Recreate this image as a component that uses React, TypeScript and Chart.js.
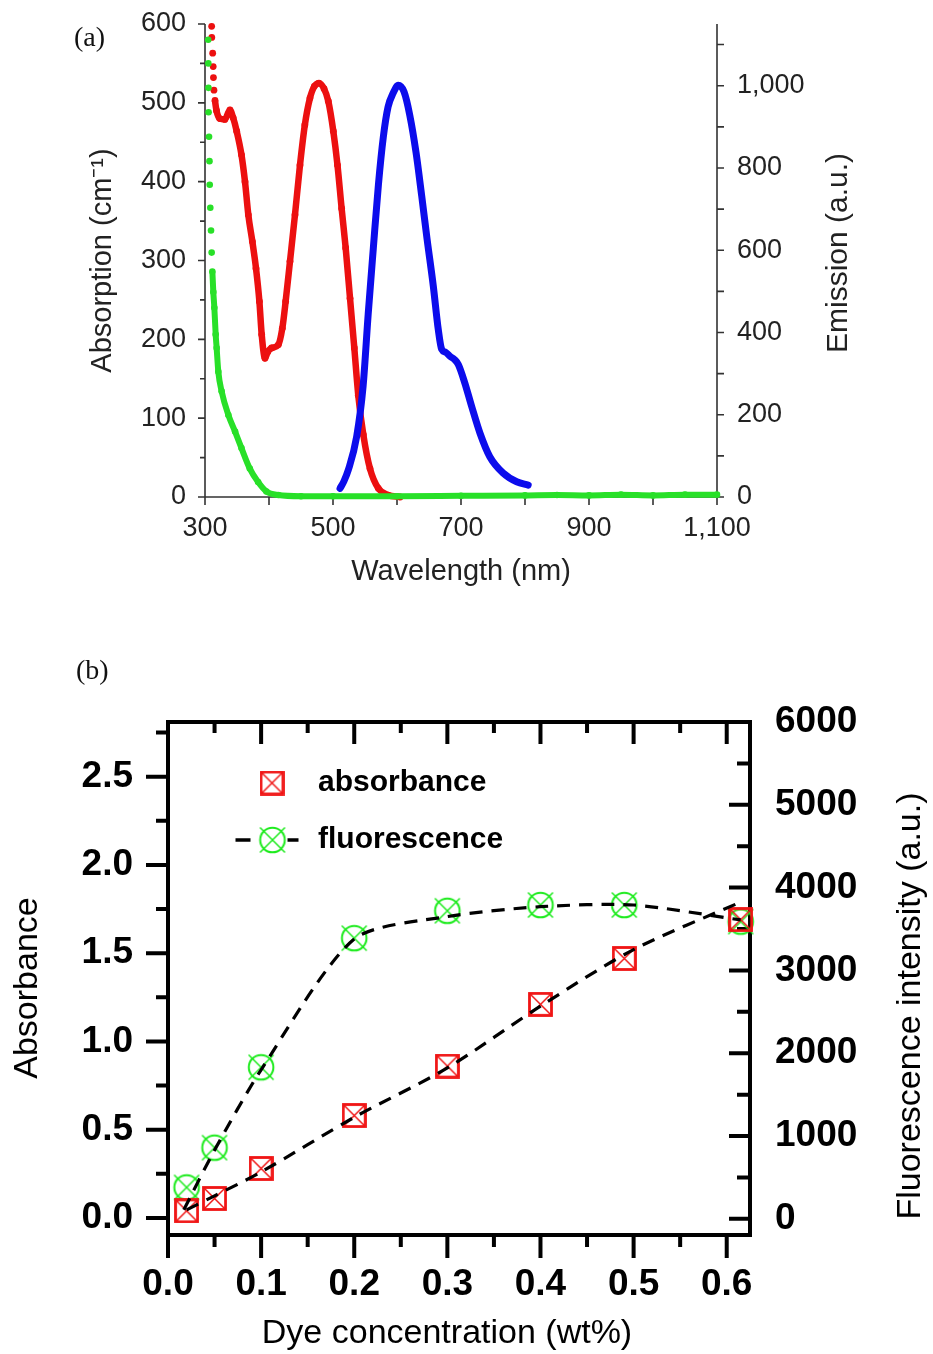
import React, { useEffect, useRef } from "react";
import { Chart, registerables } from "chart.js";

Chart.register(...registerables);

const SANS = "'Liberation Sans', Arial, Helvetica, sans-serif";
const SERIF = "'Liberation Serif', 'Times New Roman', serif";

// ---------------- Panel (a): spectra ----------------
const RED_WL = [310.4, 310.6, 312, 312.8, 313.2, 314, 315.6, 318, 323, 331, 339, 344, 349.5, 357, 362.5, 367.7, 374, 379.7, 385, 388.6, 393.8, 398, 404, 414.5, 420.8, 426, 432.8, 440.6, 448.4, 456, 464, 470.8, 478, 486, 492.7, 500.5, 507, 513.5, 519.8, 526.6, 533.3, 539.5, 547.4, 557.8, 570.8, 586, 605];
const RED_ABS = [597, 583, 563, 546, 532, 516, 503, 490, 480, 479, 491, 481, 464, 434, 400, 358, 324, 290, 248, 206, 176, 184, 189, 193, 214, 248, 299, 358, 421, 472, 506, 521, 525, 518, 502, 464, 421, 366, 316, 252, 189, 129, 79, 36, 11, 2.5, 0];

const GREEN_WL = [305, 305.2, 305.4, 305.6, 306.3, 307, 307.4, 308.3, 309.4, 310.4, 311.5, 313, 314.6, 316.7, 318.2, 320.8, 326, 336.5, 347, 357, 370, 383, 396, 414.5, 450, 500, 600, 700, 800, 850, 900, 950, 1000, 1050, 1100];
const GREEN_ABS = [580, 550, 519, 488, 457, 426, 396, 367, 338, 310, 286, 260, 240, 206, 189, 159, 134, 104, 83, 62, 36, 19, 7, 2.5, 1, 1, 1, 1.5, 2, 2.5, 2, 3, 2, 3, 3];

const BLUE_WL = [511, 517, 524, 537, 547, 555, 563, 571, 578.6, 586, 594, 602, 611, 620, 629.7, 638.6, 647, 656.7, 664.5, 669.8, 676, 683, 690, 695.8, 706, 716.7, 729.7, 745, 766, 787, 805];
const BLUE_EM = [21, 38, 66, 147, 269, 445, 605, 760, 875, 948, 982, 1001, 985, 928, 838, 732, 627, 513, 407, 359, 352, 342, 334, 322, 277, 220, 155, 98, 58, 37, 29];

const A_X_LABELS = [300, 500, 700, 900, 1100];
const A_X_MINOR = [400, 600, 800, 1000];
const A_Y_LABELS = [0, 100, 200, 300, 400, 500, 600];
const A_Y_MINOR = [50, 150, 250, 350, 450, 550];
const A_Y2_LABELS = [0, 200, 400, 600, 800, 1000];
const A_Y2_MINOR = [100, 300, 500, 700, 900, 1100];

// ---------------- Panel (b): concentration series ----------------
const CONC = [0.02, 0.05, 0.1, 0.2, 0.3, 0.4, 0.49, 0.615];
const ABSORBANCE = [0.04, 0.11, 0.28, 0.58, 0.86, 1.21, 1.47, 1.69];
const FLUORESCENCE = [380, 860, 1830, 3390, 3720, 3790, 3790, 3590];
const ABS_FIT_X = [0.02, 0.05, 0.1, 0.2, 0.3, 0.4, 0.5, 0.615];
const ABS_FIT_Y = [0.045, 0.125, 0.26, 0.57, 0.85, 1.2, 1.52, 1.79];
const FLU_FIT_X = [0.017, 0.05, 0.1, 0.2, 0.3, 0.4, 0.5, 0.615];
const FLU_FIT_Y = [110, 830, 1800, 3380, 3650, 3770, 3790, 3610];

const B_X_LABELS = [0, 0.1, 0.2, 0.3, 0.4, 0.5, 0.6];
const B_X_MINOR = [0.05, 0.15, 0.25, 0.35, 0.45, 0.55];
const B_Y_LABELS = [0, 0.5, 1.0, 1.5, 2.0, 2.5];
const B_Y_MINOR = [0.25, 0.75, 1.25, 1.75, 2.25, 2.75];
const B_Y2_LABELS = [0, 1000, 2000, 3000, 4000, 5000, 6000];
const B_Y2_MINOR = [500, 1500, 2500, 3500, 4500, 5500];

const RED = "rgb(236,16,16)";
const GREEN = "rgb(40,224,40)";
const BLUE = "rgb(12,12,236)";
const TXT = "#222";

const pts = (xs: number[], ys: number[]) => xs.map((x, i) => ({ x, y: ys[i] }));
const fixedTicks = (vals: number[]) => (s: any) => {
  s.ticks = vals.map((v) => ({ value: v }));
};
const fitBox = (w: number | null, h: number | null) => (s: any) => {
  if (w !== null) s.width = w;
  if (h !== null) s.height = h;
  s.paddingTop = 0;
  s.paddingBottom = 0;
  s.paddingLeft = 0;
  s.paddingRight = 0;
};

// axis lines + tick marks drawn through the scales
const decorPlugin = {
  id: "decor",
  beforeDatasetsDraw(chart: any, _a: any, opts: any) {
    const { ctx } = chart;
    const { left, right, top, bottom } = chart.chartArea;
    ctx.save();
    ctx.strokeStyle = opts.color;
    ctx.lineCap = "butt";
    ctx.lineWidth = opts.lineWidth;
    if (opts.frame) {
      ctx.strokeRect(left, top, right - left, bottom - top);
    } else {
      ctx.beginPath();
      for (const s of opts.sides) {
        if (s === "left") { ctx.moveTo(left, top); ctx.lineTo(left, bottom); }
        if (s === "right") { ctx.moveTo(right, top); ctx.lineTo(right, bottom); }
        if (s === "bottom") { ctx.moveTo(left, bottom); ctx.lineTo(right, bottom); }
        if (s === "top") { ctx.moveTo(left, top); ctx.lineTo(right, top); }
      }
      ctx.stroke();
    }
    for (const t of opts.ticks) {
      const sc = chart.scales[t.scale];
      ctx.lineWidth = t.width;
      ctx.beginPath();
      for (const v of t.values) {
        const p = sc.getPixelForValue(v);
        if (t.side === "left") { ctx.moveTo(left, p); ctx.lineTo(left - t.dir * t.len, p); }
        if (t.side === "right") { ctx.moveTo(right, p); ctx.lineTo(right + t.dir * t.len, p); }
        if (t.side === "bottom") { ctx.moveTo(p, bottom); ctx.lineTo(p, bottom + t.dir * t.len); }
        if (t.side === "top") { ctx.moveTo(p, top); ctx.lineTo(p, top - t.dir * t.len); }
      }
      ctx.stroke();
    }
    ctx.restore();
  },
};

// free-placed axis titles (rotated ones read bottom-to-top)
const sideTitlePlugin = {
  id: "sideTitle",
  afterDraw(chart: any, _a: any, opts: any) {
    const { ctx } = chart;
    for (const it of opts.items || []) {
      ctx.save();
      ctx.translate(it.x, it.y);
      if (it.rotate !== false) ctx.rotate(-Math.PI / 2);
      ctx.font = it.font;
      ctx.fillStyle = it.color;
      ctx.textAlign = "center";
      ctx.textBaseline = "middle";
      ctx.fillText(it.text, 0, 0);
      ctx.restore();
    }
  },
};

// legend with the custom marker glyphs
const markerLegendPlugin = {
  id: "markerLegend",
  afterDraw(chart: any, _a: any, opts: any) {
    const { ctx } = chart;
    for (const it of opts.items || []) {
      const ds = chart.data.datasets[it.datasetIndex];
      const img = ds.pointStyle;
      ctx.save();
      if (it.dashed) {
        ctx.strokeStyle = "#000";
        ctx.lineWidth = 3.5;
        ctx.beginPath();
        ctx.moveTo(it.x - 37, it.y);
        ctx.lineTo(it.x - 22, it.y);
        ctx.moveTo(it.x + 15, it.y);
        ctx.lineTo(it.x + 26, it.y);
        ctx.stroke();
      }
      ctx.drawImage(img, it.x - img.width / 2, it.y - img.height / 2);
      ctx.font = opts.font;
      ctx.fillStyle = "#000";
      ctx.textAlign = "left";
      ctx.textBaseline = "middle";
      ctx.fillText(ds.label, opts.textX, it.y);
      ctx.restore();
    }
  },
};

function makeSquareX(color: string) {
  const size = 25;
  const c = document.createElement("canvas");
  c.width = size;
  c.height = size;
  const g = c.getContext("2d")!;
  g.strokeStyle = color;
  const m = 1.5;
  g.lineWidth = 2.8;
  g.strokeRect(m, m, size - 2 * m, size - 2 * m);
  g.lineWidth = 1.5;
  g.beginPath();
  g.moveTo(m, m);
  g.lineTo(size - m, size - m);
  g.moveTo(size - m, m);
  g.lineTo(m, size - m);
  g.stroke();
  return c;
}

function makeCircleX(color: string) {
  const size = 30;
  const c = document.createElement("canvas");
  c.width = size;
  c.height = size;
  const g = c.getContext("2d")!;
  g.strokeStyle = color;
  g.lineWidth = 2;
  g.beginPath();
  g.arc(size / 2, size / 2, 12.3, 0, Math.PI * 2);
  g.stroke();
  g.lineWidth = 1.5;
  g.beginPath();
  g.moveTo(2.5, 2.5);
  g.lineTo(size - 2.5, size - 2.5);
  g.moveTo(size - 2.5, 2.5);
  g.lineTo(2.5, size - 2.5);
  g.stroke();
  return c;
}

const hiddenUntil = (n: number) => (c: any) => (c.p1DataIndex <= n ? "rgba(0,0,0,0)" : undefined);

function configA(): any {
  const tickFont = { family: SANS, size: 27 };
  const titleFont = { family: SANS, size: 29 };
  return {
    type: "line",
    data: {
      datasets: [
        {
          label: "green",
          data: pts(GREEN_WL, GREEN_ABS),
          yAxisID: "y",
          borderColor: GREEN,
          backgroundColor: GREEN,
          borderWidth: 6,
          pointRadius: 3.3,
          pointBorderWidth: 0,
          pointBackgroundColor: GREEN,
          cubicInterpolationMode: "monotone",
          borderJoinStyle: "round",
          segment: { borderColor: hiddenUntil(10) },
          clip: false,
        },
        {
          label: "blue",
          data: pts(BLUE_WL, BLUE_EM),
          yAxisID: "y2",
          borderColor: BLUE,
          backgroundColor: BLUE,
          borderWidth: 7,
          pointRadius: 0,
          cubicInterpolationMode: "monotone",
          borderCapStyle: "round",
          borderJoinStyle: "round",
          clip: false,
        },
        {
          label: "red",
          data: pts(RED_WL, RED_ABS),
          yAxisID: "y",
          borderColor: RED,
          backgroundColor: RED,
          borderWidth: 6.5,
          pointRadius: 3.4,
          pointBorderWidth: 0,
          pointBackgroundColor: RED,
          cubicInterpolationMode: "monotone",
          borderJoinStyle: "round",
          segment: { borderColor: hiddenUntil(6) },
          clip: false,
        },
      ],
    },
    options: {
      responsive: false,
      animation: false,
      events: [],
      layout: { padding: { top: 24, left: 0, right: 0, bottom: 0 } },
      plugins: {
        legend: { display: false },
        tooltip: { enabled: false },
        decor: {
          color: "#333",
          lineWidth: 1.6,
          sides: ["left", "bottom", "right"],
          ticks: [
            { scale: "y", side: "left", values: A_Y_LABELS, len: 7, dir: 1, width: 1.6 },
            { scale: "y", side: "left", values: A_Y_MINOR, len: 5, dir: 1, width: 1.6 },
            { scale: "x", side: "bottom", values: [...A_X_LABELS, ...A_X_MINOR], len: 8, dir: 1, width: 1.6 },
            { scale: "y2", side: "right", values: [...A_Y2_LABELS, ...A_Y2_MINOR], len: 7, dir: 1, width: 1.6 },
          ],
        },
        sideTitle: {
          items: [{ text: "Emission (a.u.)", x: 839, y: 253, font: `30px ${SANS}`, color: TXT }],
        },
      },
      scales: {
        x: {
          type: "linear",
          position: "bottom",
          min: 300,
          max: 1100,
          grid: { display: false, drawTicks: false },
          border: { display: false },
          afterFit: fitBox(null, 123),
          afterBuildTicks: fixedTicks(A_X_LABELS),
          ticks: {
            autoSkip: false,
            maxRotation: 0,
            padding: 15,
            color: TXT,
            font: tickFont,
            callback: (v: any) => Number(v).toLocaleString("en-US"),
          },
          title: { display: true, text: "Wavelength (nm)", color: TXT, font: titleFont, padding: { top: 0, bottom: 31 } },
        },
        y: {
          type: "linear",
          position: "left",
          min: 0,
          max: 600,
          grid: { display: false, drawTicks: false },
          border: { display: false },
          afterFit: fitBox(205, null),
          afterBuildTicks: fixedTicks(A_Y_LABELS),
          ticks: { autoSkip: false, padding: 19, color: TXT, font: tickFont },
          title: { display: true, text: "Absorption (cm\u207B\u00B9)", color: TXT, font: titleFont, padding: { top: 86, bottom: 0 } },
        },
        y2: {
          type: "linear",
          position: "right",
          min: 0,
          max: 1150,
          grid: { display: false, drawTicks: false },
          border: { display: false },
          afterFit: fitBox(216, null),
          afterBuildTicks: fixedTicks(A_Y2_LABELS),
          ticks: {
            autoSkip: false,
            padding: 20,
            color: TXT,
            font: tickFont,
            callback: (v: any) => Number(v).toLocaleString("en-US"),
          },
        },
      },
    },
    plugins: [decorPlugin, sideTitlePlugin],
  };
}

function configB(): any {
  const sq = makeSquareX("rgb(240,20,20)");
  const ci = makeCircleX("rgb(30,235,30)");
  const tickFont = { family: SANS, size: 37, weight: "bold" };
  return {
    type: "line",
    data: {
      datasets: [
        {
          label: "absorbance fit",
          data: pts(ABS_FIT_X, ABS_FIT_Y),
          yAxisID: "y",
          borderColor: "#000",
          borderWidth: 3.2,
          borderDash: [13, 9],
          pointRadius: 0,
          tension: 0.3,
          clip: false,
        },
        {
          label: "fluorescence fit",
          data: pts(FLU_FIT_X, FLU_FIT_Y),
          yAxisID: "y2",
          borderColor: "#000",
          borderWidth: 3.2,
          borderDash: [13, 9],
          pointRadius: 0,
          tension: 0.25,
          clip: false,
        },
        {
          label: "absorbance",
          data: pts(CONC, ABSORBANCE),
          yAxisID: "y",
          showLine: false,
          pointStyle: sq,
          pointRadius: 12,
          clip: false,
        },
        {
          label: "fluorescence",
          data: pts(CONC, FLUORESCENCE),
          yAxisID: "y2",
          showLine: false,
          pointStyle: ci,
          pointRadius: 13,
          clip: false,
        },
      ],
    },
    options: {
      responsive: false,
      animation: false,
      events: [],
      layout: { padding: { top: 102, left: 0, right: 0, bottom: 0 } },
      plugins: {
        legend: { display: false },
        tooltip: { enabled: false },
        decor: {
          color: "#000",
          lineWidth: 4,
          frame: true,
          ticks: [
            { scale: "y", side: "left", values: B_Y_LABELS, len: 22, dir: 1, width: 4 },
            { scale: "y", side: "left", values: B_Y_MINOR, len: 12, dir: 1, width: 4 },
            { scale: "x", side: "bottom", values: B_X_LABELS, len: 23, dir: 1, width: 4 },
            { scale: "x", side: "bottom", values: B_X_MINOR, len: 12, dir: 1, width: 4 },
            { scale: "x", side: "top", values: B_X_LABELS, len: 22, dir: -1, width: 4 },
            { scale: "x", side: "top", values: B_X_MINOR, len: 11, dir: -1, width: 4 },
            { scale: "y2", side: "right", values: B_Y2_LABELS, len: 21, dir: -1, width: 4 },
            { scale: "y2", side: "right", values: B_Y2_MINOR, len: 13, dir: -1, width: 4 },
          ],
        },
        sideTitle: {
          items: [
            { text: "Absorbance", x: 28, y: 368, font: `34px ${SANS}`, color: "#000" },
            { text: "Fluorescence intensity (a.u.)", x: 911, y: 386, font: `34px ${SANS}`, color: "#000" },
            { text: "Dye concentration (wt%)", x: 447, y: 714, font: `34px ${SANS}`, color: "#000", rotate: false },
          ],
        },
        markerLegend: {
          font: `bold 30px ${SANS}`,
          textX: 318,
          items: [
            { datasetIndex: 2, x: 272, y: 163, dashed: false },
            { datasetIndex: 3, x: 272.5, y: 220, dashed: true },
          ],
        },
      },
      scales: {
        x: {
          type: "linear",
          position: "bottom",
          min: 0,
          max: 0.625,
          grid: { display: false, drawTicks: false },
          border: { display: false },
          afterFit: fitBox(null, 119),
          afterBuildTicks: fixedTicks(B_X_LABELS),
          ticks: {
            autoSkip: false,
            maxRotation: 0,
            padding: 28,
            color: "#000",
            font: tickFont,
            callback: (v: any) => Number(v).toFixed(1),
          },
        },
        y: {
          type: "linear",
          position: "left",
          min: -0.097,
          max: 2.81,
          grid: { display: false, drawTicks: false },
          border: { display: false },
          afterFit: fitBox(168, null),
          afterBuildTicks: fixedTicks(B_Y_LABELS),
          ticks: {
            autoSkip: false,
            padding: 35,
            color: "#000",
            font: tickFont,
            callback: (v: any) => Number(v).toFixed(1),
          },
        },
        y2: {
          type: "linear",
          position: "right",
          min: -195,
          max: 6000,
          grid: { display: false, drawTicks: false },
          border: { display: false },
          afterFit: fitBox(183, null),
          afterBuildTicks: fixedTicks(B_Y2_LABELS),
          ticks: { autoSkip: false, padding: 25, color: "#000", font: tickFont, callback: (v: any) => String(v) },
        },
      },
    },
    plugins: [decorPlugin, sideTitlePlugin, markerLegendPlugin],
  };
}

function ChartBox(props: { top: number; width: number; height: number; make: () => any }) {
  const ref = useRef<HTMLCanvasElement>(null);
  useEffect(() => {
    const chart = new Chart(ref.current as HTMLCanvasElement, props.make());
    return () => chart.destroy();
  }, []);
  return (
    <div style={{ position: "absolute", left: 0, top: props.top, width: props.width, height: props.height }}>
      <canvas ref={ref} width={props.width} height={props.height} style={{ display: "block" }} />
    </div>
  );
}

export default function App() {
  const panelLabel: React.CSSProperties = {
    position: "absolute",
    fontFamily: SERIF,
    fontSize: 28,
    lineHeight: "32px",
    color: "#111",
  };
  return (
    <div style={{ position: "absolute", left: 0, top: 0, width: 933, height: 1354, background: "#fff", overflow: "hidden" }}>
      <ChartBox top={0} width={933} height={620} make={configA} />
      <ChartBox top={620} width={933} height={734} make={configB} />
      <div style={{ ...panelLabel, left: 74, top: 21 }}>(a)</div>
      <div style={{ ...panelLabel, left: 76, top: 654 }}>(b)</div>
    </div>
  );
}
